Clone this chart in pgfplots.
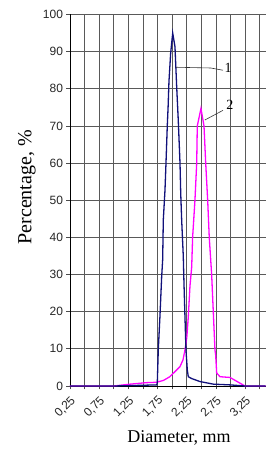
\documentclass[border=0pt]{standalone}
\usepackage{fontspec}
\setmainfont{Liberation Serif}
\newfontfamily\arial{Liberation Sans}
\usepackage{pgfplots}
\pgfplotsset{compat=1.18}
\definecolor{navyc}{HTML}{10107A}
\definecolor{magc}{HTML}{FF00FF}
\begin{document}
\begin{tikzpicture}[x=1pt,y=1pt]
\useasboundingbox (0,0) rectangle (266,449);
\clip (0,0) rectangle (266,449);
\begin{axis}[
  at={(70pt,63pt)}, anchor=south west,
  scale only axis, width=195.6pt, height=371.5pt,
  xmin=0.25, xmax=3.6, ymin=0, ymax=100,
  axis x line*=bottom, axis y line*=left,
  axis line style={-, black, line width=0.9pt},
  xtick={0.25,0.75,1.25,1.75,2.25,2.75,3.25},
  xticklabels={{0,25},{0,75},{1,25},{1,75},{2,25},{2,75},{3,25}},
  minor xtick={0.5,1,1.5,2,2.5,3,3.5},
  ytick={0,10,...,100},
  tick align=outside, tick pos=left,
  major tick length=3.5pt, minor tick length=3.5pt,
  tick style={black!70, line width=0.8pt},
  minor tick style={black!70, line width=0.8pt},
  grid=both,
  major grid style={black!65, line width=0.85pt},
  minor grid style={black!65, line width=0.85pt},
  /pgf/number format/assume math mode=true,
  yticklabel style={font=\arial\fontsize{12}{12}\selectfont, text=black!85},
  xticklabel style={font=\arial\fontsize{12}{12}\selectfont, text=black!85, rotate=45, anchor=north east, inner sep=1pt, xshift=-3pt, yshift=-3pt},
  xlabel={Diameter, mm},
  ylabel={Percentage, \%},
  xlabel style={font=\fontsize{18}{18}\selectfont, at={(axis description cs:0.557,-0.141)}, anchor=center},
  ylabel style={font=\fontsize{20}{20}\selectfont, at={(axis description cs:-0.22,0.535)}, anchor=center},
  clip=false,
]
\addplot[magc, line width=1.3pt] coordinates {
(0.25,0) (1.0,0) (1.28,0.5) (1.56,0.9) (1.73,1.0) (1.85,1.5) (1.96,2.5) (2.133,5.2) (2.185,7) (2.219,9.7) (2.25,13) (2.276,18.6) (2.305,27) (2.334,32) (2.35,40) (2.39,50) (2.42,60) (2.43,70) (2.493,74.7) (2.545,70) (2.574,60) (2.608,50) (2.635,40) (2.676,30) (2.704,20) (2.733,9.7) (2.745,8.3) (2.762,3.5) (2.819,2.5) (2.99,2.3) (3.247,0) (3.6,0)
};
\addplot[navyc, line width=1.3pt] coordinates {
(0.25,0) (0.5,0) (0.75,0) (1.0,0) (1.25,0.1) (1.5,0.2) (1.734,0.3) (1.745,0.8) (1.762,9.7) (1.79,18.6) (1.82,29.4) (1.837,34) (1.848,44.7) (1.877,52.8) (1.894,60) (1.916,70) (1.93,75) (1.945,82) (1.974,89.6) (2.009,95) (2.048,91.3) (2.077,80.6) (2.104,71.6) (2.134,60) (2.146,52) (2.163,44.5) (2.19,35) (2.202,27.7) (2.219,18.6) (2.236,9.7) (2.259,4.3) (2.276,2.5) (2.334,2.0) (2.476,1.2) (2.704,0.5) (2.99,0.3) (3.247,0) (3.6,0)
};
\addplot[black!80, line width=0.6pt] coordinates {(2.06,85.8) (2.66,85.6) (2.87,85.0)};
\addplot[black!80, line width=0.6pt] coordinates {(2.56,71.6) (2.87,74.2)};
\node[font=\fontsize{14}{14}\selectfont] at (axis cs:2.96,85.5) {1};
\node[font=\fontsize{14}{14}\selectfont] at (axis cs:2.99,75.6) {2};
\end{axis}
\end{tikzpicture}
\end{document}
